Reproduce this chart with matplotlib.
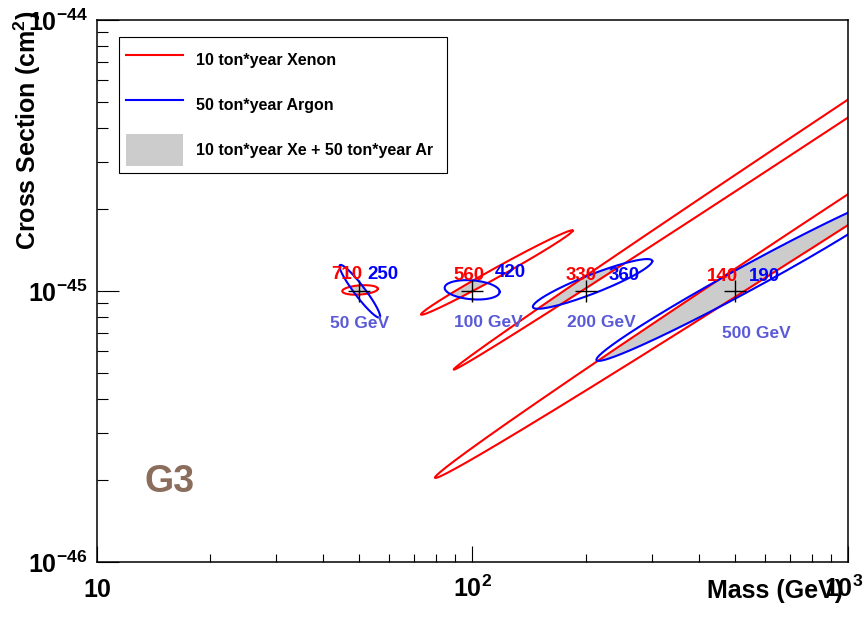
import numpy as np
import matplotlib
matplotlib.use('Agg')
import matplotlib.pyplot as plt
from matplotlib.lines import Line2D
from matplotlib.patches import Patch, Polygon
from matplotlib.ticker import NullFormatter
from matplotlib.transforms import ScaledTranslation

# benchmark points
masses = [50, 100, 200, 500]
true_xsec = 1e-45
xe_events = [710, 560, 330, 140]
ar_events = [250, 420, 360, 190]
mass_labels = ['50 GeV', '100 GeV', '200 GeV', '500 GeV']

# contours (ellipses in log-log): centre mass, centre xsec,
# half span in decades of mass, midline slope, half height in decades of xsec
xe_c_mass = [50.18, 116.1, 1905.0, 3162.0]
xe_c_xsec = [1.009e-45, 1.17e-45, 8.51e-45, 5.62e-45]
xe_span = [0.0474, 0.202, 1.33, 1.6]
xe_slope = [0.093, 0.765, 0.917, 0.899]
xe_half = [0.017, 0.02, 0.034, 0.06]

ar_c_mass = [50.1, 99.8, 208.8, 549.5]
ar_c_xsec = [0.998e-45, 1.01e-45, 1.062e-45, 1.132e-45]
ar_span = [0.054, 0.0733, 0.159, 0.41]
ar_slope = [-1.70, -0.1, 0.528, 0.75]
ar_half = [0.032, 0.035, 0.037, 0.052]

xtick_vals = [10, 100, 1000]
xtick_labels = ['10', r'$10^{2}$', r'$10^{3}$']
ytick_vals = [1e-46, 1e-45, 1e-44]
ytick_labels = [r'$10^{-46}$', r'$10^{-45}$', r'$10^{-44}$']

plt.rcParams.update({'font.family': 'Liberation Sans',
                     'font.weight': 'bold',
                     'mathtext.fontset': 'custom',
                     'mathtext.rm': 'Liberation Sans:bold',
                     'mathtext.it': 'Liberation Sans:bold',
                     'mathtext.bf': 'Liberation Sans:bold',
                     'mathtext.default': 'rm'})

RED = '#ff0000'
BLUE = '#0000ff'
GRAY = '#cccccc'
SLATE = '#5a5ad8'


def contour(mc, sc, span, slope, half):
    t = np.linspace(0, 2 * np.pi, 600)
    u = np.log10(mc) + span * np.cos(t)
    v = np.log10(sc) + slope * span * np.cos(t) + half * np.sin(t)
    return 10 ** u, 10 ** v


fig = plt.figure(figsize=(8.64, 6.2), dpi=100)
ax = fig.add_axes([97 / 864, 58 / 620, 751 / 864, 542 / 620])
ax.set_xscale('log')
ax.set_yscale('log')
ax.set_xlim(10, 1000)
ax.set_ylim(1e-46, 1e-44)

for i in range(len(masses)):
    xr, yr = contour(xe_c_mass[i], xe_c_xsec[i], xe_span[i], xe_slope[i], xe_half[i])
    xb, yb = contour(ar_c_mass[i], ar_c_xsec[i], ar_span[i], ar_slope[i], ar_half[i])
    # overlap of both experiments
    gray = ax.fill(xr, yr, color=GRAY, lw=0, zorder=1)[0]
    clip = Polygon(np.column_stack([xb, yb]), transform=ax.transData)
    gray.set_clip_path(clip)
    ax.plot(xr, yr, color=RED, lw=1.5, zorder=2)
    ax.plot(xb, yb, color=BLUE, lw=1.5, zorder=2)

ax.plot(masses, [true_xsec] * len(masses), ls='none', marker='+', ms=16,
        mew=1.0, color='black', zorder=3)

# event counts and mass labels
xe_off = [(-13, 12), (-3, 11), (-4, 11), (-13, 10)]
ar_off = [(23, 12), (38, 14), (39, 11), (29, 10)]
gev_off = [(0, -37), (16, -36), (16, -36), (21, -47)]
for i, m in enumerate(masses):
    ax.annotate(str(xe_events[i]), (m, true_xsec), xytext=xe_off[i],
                textcoords='offset pixels', ha='center', va='baseline',
                color=RED, fontsize=13.5)
    ax.annotate(str(ar_events[i]), (m, true_xsec), xytext=ar_off[i],
                textcoords='offset pixels', ha='center', va='baseline',
                color=BLUE, fontsize=13.5)
    ax.annotate(mass_labels[i], (m, true_xsec), xytext=gev_off[i],
                textcoords='offset pixels', ha='center', va='baseline',
                color=SLATE, fontsize=12.5)

# ticks
ax.set_xticks(xtick_vals, xtick_labels)
ax.set_yticks(ytick_vals, ytick_labels)
ax.xaxis.set_minor_formatter(NullFormatter())
ax.yaxis.set_minor_formatter(NullFormatter())
ax.tick_params(axis='both', which='both', direction='in', top=False, right=False,
               width=0.8, labelsize=18)
ax.tick_params(axis='x', which='major', length=11.5, pad=25)
ax.tick_params(axis='x', which='minor', length=5.8)
ax.tick_params(axis='y', which='major', length=15.8, pad=7)
ax.tick_params(axis='y', which='minor', length=7.9)
for lab in ax.get_xticklabels():
    lab.set_va('baseline')
# keep the last label inside the figure
last = ax.get_xticklabels()[-1]
last.set_transform(last.get_transform() + ScaledTranslation(-0.04, 0, fig.dpi_scale_trans))
for lab in ax.get_yticklabels():
    lab.set_va('baseline')
    lab.set_transform(lab.get_transform() + ScaledTranslation(0, -0.11, fig.dpi_scale_trans))
for sp in ax.spines.values():
    sp.set_linewidth(1.1)

fig.text(27 / 864, 1 - 130 / 620, r'Cross Section (cm$^{2}$)', rotation=90,
         ha='center', va='center', fontsize=18)
fig.text(843 / 864, 22 / 620, 'Mass (GeV)', ha='right', va='baseline', fontsize=18)
fig.text(145 / 864, 128 / 620, 'G3', ha='left', va='baseline', fontsize=27,
         color='#8b6d5c')

handles = [Line2D([], [], color=RED, lw=1.5),
           Line2D([], [], color=BLUE, lw=1.5),
           Patch(facecolor=GRAY, edgecolor='none')]
names = ['10 ton*year Xenon', '50 ton*year Argon', '10 ton*year Xe + 50 ton*year Ar']
leg = ax.legend(handles, names, loc='upper left', mode='expand',
                bbox_to_anchor=(22 / 751, 0.0, 328 / 751, 524.7 / 542),
                fontsize=11.5, handlelength=3.55, handleheight=2.64,
                labelspacing=0.85, handletextpad=0.8, borderpad=0.45,
                borderaxespad=0, fancybox=False, framealpha=1,
                edgecolor='black')
leg.get_frame().set_linewidth(0.8)

fig.savefig('out.png', dpi=100)
